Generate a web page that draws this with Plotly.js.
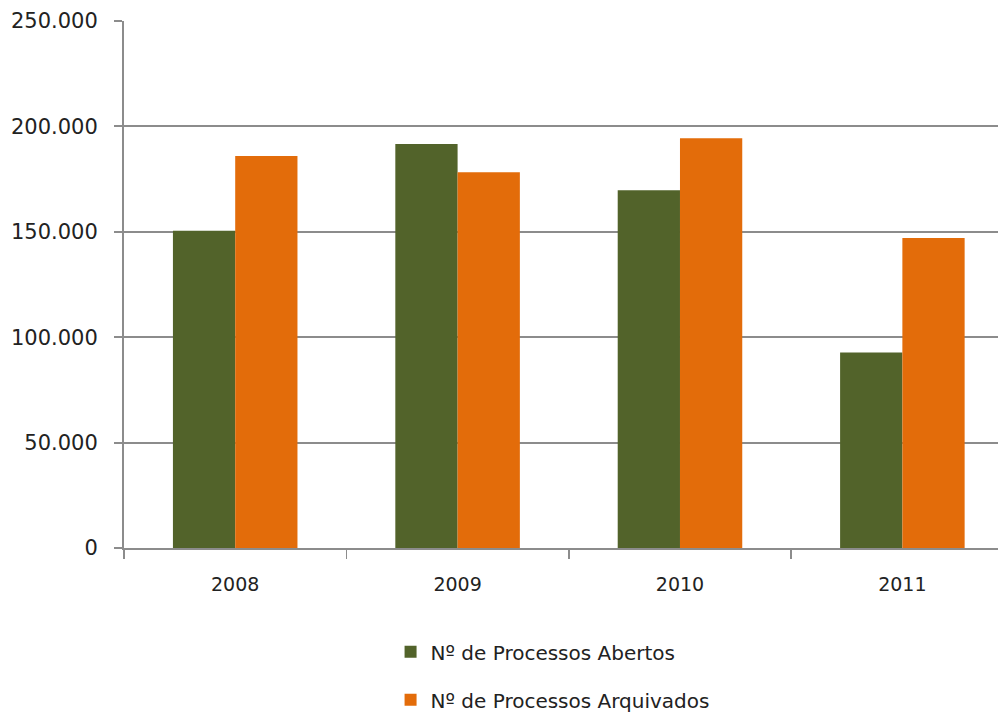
<!DOCTYPE html>
<html>
<head>
<meta charset="utf-8">
<script src="https://cdn.plot.ly/plotly-3.0.1.min.js"></script>
<style>html,body{margin:0;padding:0;background:#fff;overflow:hidden}</style>
</head>
<body>
<div id="chart" style="width:998px;height:713px"></div>
<script>
const years = ['2008', '2009', '2010', '2011'];
const abertos = [150500, 191600, 169700, 92800];
const arquivados = [186000, 178200, 194400, 147100];
const seriesNames = ['Nº de Processos Abertos', 'Nº de Processos Arquivados'];
const yTicks = [0, 50000, 100000, 150000, 200000, 250000];

const FONT = '"DejaVu Sans", Verdana, sans-serif';
const data = [
  {type: 'bar', x: years, y: abertos, name: seriesNames[0], legendgroup: 'a',
   marker: {color: '#52632A', line: {width: 0}}, hoverinfo: 'skip'},
  {type: 'bar', x: years, y: arquivados, name: seriesNames[1], legendgroup: 'b',
   marker: {color: '#E36C0A', line: {width: 0}}, hoverinfo: 'skip'}
];
const layout = {
  width: 998, height: 713,
  margin: {l: 124, r: 0, t: 21, b: 165, autoexpand: false},
  paper_bgcolor: '#fff', plot_bgcolor: '#fff',
  separators: ',.',
  font: {family: FONT, size: 20, color: '#222'},
  barmode: 'group', bargap: 0.44, bargroupgap: 0,
  showlegend: true,
  legend: {orientation: 'v', x: 0.305, xanchor: 'left', y: -0.16, yanchor: 'top',
           traceorder: 'grouped', tracegroupgap: 19,
           font: {family: FONT, size: 20, color: '#222'}},
  xaxis: {type: 'category', range: [-0.5, 3.43], showgrid: false,
          showline: true, linecolor: '#8c8c8c', linewidth: 2,
          ticks: 'outside', tickson: 'boundaries', ticklen: 9, tickcolor: '#8c8c8c', tickwidth: 1.5,
          ticklabelstandoff: 18, tickfont: {size: 19}, fixedrange: true},
  yaxis: {range: [0, 250000], tickvals: yTicks, tickformat: ',d',
          showgrid: true, gridcolor: '#8c8c8c', gridwidth: 2,
          showline: true, linecolor: '#8c8c8c', linewidth: 2,
          ticks: 'outside', ticklen: 8, tickcolor: '#8c8c8c', tickwidth: 2,
          ticklabelstandoff: 12, tickfont: {size: 21}, zeroline: false, fixedrange: true}
};
Plotly.newPlot('chart', data, layout, {displayModeBar: false, staticPlot: true});
</script>
</body>
</html>
